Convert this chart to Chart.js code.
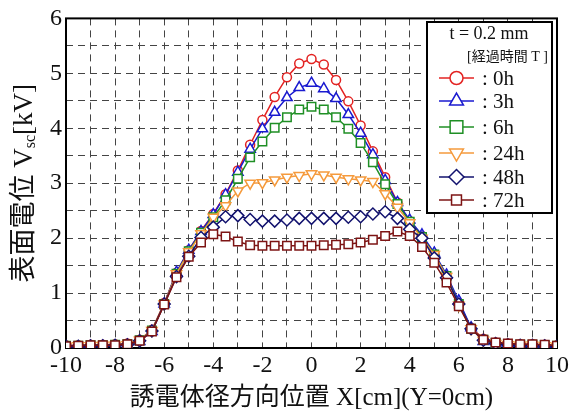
<!DOCTYPE html>
<html>
<head>
<meta charset="utf-8">
<script src="https://cdn.jsdelivr.net/npm/chart.js@4/dist/chart.umd.min.js"></script>
<style>
  html, body { margin: 0; padding: 0; background: #fff; }
  #wrap { width: 572px; height: 412px; }
</style>
</head>
<body>
<div id="wrap"><canvas id="c" width="572" height="412"></canvas></div>
<script>
// radial position X [cm], measured every 0.5 cm
const xPos = [-10, -9.5, -9, -8.5, -8, -7.5, -7, -6.5, -6, -5.5, -5, -4.5, -4, -3.5, -3, -2.5, -2, -1.5, -1, -0.5,
  0, 0.5, 1, 1.5, 2, 2.5, 3, 3.5, 4, 4.5, 5, 5.5, 6, 6.5, 7, 7.5, 8, 8.5, 9, 9.5, 10];

// surface potential Vsc [kV] for each elapsed time
const v0h  = [0.05, 0.05, 0.06, 0.06, 0.07, 0.08, 0.15, 0.33, 0.82, 1.37, 1.78, 2.13, 2.44, 2.80, 3.23, 3.70, 4.15, 4.57, 4.93, 5.18,
  5.26, 5.16, 4.88, 4.49, 4.05, 3.58, 3.11, 2.65, 2.31, 2.04, 1.71, 1.31, 0.82, 0.37, 0.17, 0.10, 0.08, 0.07, 0.07, 0.06, 0.05];
const v3h  = [0.02, 0.02, 0.02, 0.03, 0.03, 0.05, 0.12, 0.30, 0.80, 1.38, 1.78, 2.12, 2.43, 2.79, 3.20, 3.62, 3.99, 4.29, 4.56, 4.74,
  4.82, 4.72, 4.54, 4.25, 3.91, 3.52, 3.05, 2.65, 2.33, 2.06, 1.73, 1.33, 0.86, 0.37, 0.12, 0.04, 0.03, 0.03, 0.02, 0.02, 0.02];
const v6h  = [0.04, 0.04, 0.05, 0.05, 0.06, 0.07, 0.14, 0.32, 0.80, 1.35, 1.76, 2.10, 2.38, 2.69, 3.08, 3.47, 3.76, 4.01, 4.20, 4.34,
  4.39, 4.34, 4.20, 3.99, 3.73, 3.38, 2.98, 2.62, 2.30, 2.02, 1.70, 1.31, 0.80, 0.35, 0.15, 0.09, 0.07, 0.06, 0.06, 0.05, 0.04];
const v24h = [0.03, 0.04, 0.04, 0.05, 0.05, 0.06, 0.14, 0.32, 0.80, 1.35, 1.75, 2.08, 2.38, 2.59, 2.86, 3.00, 3.01, 3.06, 3.11, 3.14,
  3.17, 3.15, 3.11, 3.08, 3.06, 3.03, 2.81, 2.56, 2.28, 2.00, 1.70, 1.30, 0.78, 0.35, 0.14, 0.08, 0.06, 0.05, 0.05, 0.04, 0.03];
const v48h = [0.03, 0.03, 0.04, 0.04, 0.05, 0.06, 0.13, 0.31, 0.80, 1.30, 1.67, 2.01, 2.20, 2.39, 2.41, 2.34, 2.31, 2.31, 2.33, 2.36,
  2.36, 2.36, 2.36, 2.38, 2.39, 2.44, 2.48, 2.36, 2.16, 2.00, 1.64, 1.28, 0.80, 0.35, 0.14, 0.08, 0.06, 0.05, 0.05, 0.04, 0.03];
const v72h = [0.03, 0.04, 0.05, 0.05, 0.05, 0.07, 0.13, 0.30, 0.79, 1.29, 1.66, 1.92, 2.07, 2.03, 1.94, 1.87, 1.86, 1.86, 1.86, 1.86,
  1.86, 1.87, 1.88, 1.89, 1.92, 1.97, 2.04, 2.12, 2.04, 1.84, 1.55, 1.19, 0.76, 0.35, 0.15, 0.10, 0.08, 0.07, 0.07, 0.06, 0.04];

const seriesLabels = [": 0h", ": 3h", ": 6h", ": 24h", ": 48h", ": 72h"];
const seriesValues = [v0h, v3h, v6h, v24h, v48h, v72h];

// axis tick labels
const xTickLabels = [-10, -8, -6, -4, -2, 0, 2, 4, 6, 8, 10];
const yTickLabels = [0, 1, 2, 3, 4, 5, 6];

const colors = ["#e32322", "#1a1ad0", "#1f8f25", "#f59a3c", "#12126e", "#7d1414"];
const styles = [
  { pointStyle: "circle",   radius: 4.5, rotation: 0,   legendR: 6.5 },
  { pointStyle: "triangle", radius: 6,   rotation: 0,   legendR: 8 },
  { pointStyle: "rect",     radius: 6,   rotation: 0,   legendR: 9 },
  { pointStyle: "triangle", radius: 6,   rotation: 180, legendR: 8 },
  { pointStyle: "rectRot",  radius: 6,   rotation: 0,   legendR: 7.5 },
  { pointStyle: "rect",     radius: 6,   rotation: 0,   legendR: 7 }
];

const SERIF = "'Liberation Serif', 'Times New Roman', 'Noto Sans CJK JP', serif";

const datasets = seriesValues.map((vals, i) => ({
  label: seriesLabels[i],
  data: vals.map((v, k) => ({ x: xPos[k], y: v })),
  borderColor: colors[i],
  backgroundColor: "#fff",
  borderWidth: 1.5,
  pointStyle: styles[i].pointStyle,
  pointRotation: styles[i].rotation,
  pointRadius: styles[i].radius,
  pointBorderWidth: 1.5,
  pointBackgroundColor: "#fff",
  pointBorderColor: colors[i],
  tension: 0,
  order: seriesValues.length - i
}));

// solid frame round the plot (drawn under the marks)
const framePlugin = {
  id: "frame",
  beforeDatasetsDraw(chart) {
    const { ctx, chartArea: a } = chart;
    ctx.save();
    ctx.strokeStyle = "#000";
    ctx.lineWidth = 2;
    ctx.setLineDash([]);
    ctx.strokeRect(a.left, a.top, a.right - a.left, a.bottom - a.top);
    ctx.restore();
  }
};

// legend box, axis titles
const textPlugin = {
  id: "texts",
  afterDraw(chart) {
    const { ctx, chartArea: a } = chart;
    ctx.save();

    // legend box
    const bx = 427, by = 22, bw = 125, bh = 191;
    ctx.fillStyle = "#fff";
    ctx.fillRect(bx, by, bw, bh);
    ctx.strokeStyle = "#000";
    ctx.lineWidth = 2;
    ctx.strokeRect(bx, by, bw, bh);

    ctx.fillStyle = "#111";
    ctx.textBaseline = "middle";
    ctx.textAlign = "center";
    ctx.font = "18px " + SERIF;
    ctx.fillText("t = 0.2 mm", 489, 34);
    ctx.textAlign = "right";
    ctx.font = "14px " + SERIF;
    ctx.fillText("[経過時間 T ]", 548, 57);

    const rowY = [78, 101, 127, 153, 177, 200];
    chart.data.datasets.forEach((ds, i) => {
      const y = rowY[i];
      ctx.strokeStyle = colors[i];
      ctx.lineWidth = 1.5;
      ctx.beginPath();
      ctx.moveTo(439, y);
      ctx.lineTo(474, y);
      ctx.stroke();
      ctx.fillStyle = "#fff";
      Chart.helpers.drawPoint(ctx, {
        pointStyle: styles[i].pointStyle,
        rotation: styles[i].rotation,
        radius: styles[i].legendR,
        borderWidth: 1.5
      }, 456.5, y);
      ctx.fillStyle = "#111";
      ctx.textAlign = "left";
      ctx.font = "21px " + SERIF;
      ctx.fillText(ds.label, 482, y + 1);
    });

    // x title
    ctx.textAlign = "center";
    ctx.font = "25px " + SERIF;
    ctx.fillText("誘電体径方向位置 X[cm](Y=0cm)", (a.left + a.right) / 2, 398);

    // y title with subscript
    ctx.translate(25, (a.top + a.bottom) / 2);
    ctx.rotate(-Math.PI / 2);
    const big = "27px " + SERIF, small = "16px " + SERIF;
    const parts = [["表面電位 V", big, 0], ["sc", small, 6], ["[kV]", big, 0]];
    let total = 0;
    parts.forEach(p => { ctx.font = p[1]; total += ctx.measureText(p[0]).width; });
    let cx = -total / 2;
    ctx.textAlign = "left";
    parts.forEach(p => {
      ctx.font = p[1];
      ctx.fillText(p[0], cx, p[2]);
      cx += ctx.measureText(p[0]).width;
    });

    ctx.restore();
  }
};

new Chart(document.getElementById("c"), {
  type: "line",
  data: { datasets },
  options: {
    responsive: false,
    animation: false,
    devicePixelRatio: 1,
    layout: { padding: { left: 0, right: 15, top: 18, bottom: 0 } },
    plugins: { legend: { display: false }, tooltip: { enabled: false } },
    scales: {
      x: {
        type: "linear",
        min: -10, max: 10,
        afterFit: s => { s.height = 64; },
        ticks: {
          stepSize: 1,
          autoSkip: false,
          maxRotation: 0,
          padding: 3,
          color: "#111",
          font: { family: SERIF, size: 24 },
          callback: v => (xTickLabels.includes(v) ? String(v) : "")
        },
        grid: { color: "#444", lineWidth: 1, drawTicks: false },
        border: { display: false, dash: [7, 5] }
      },
      y: {
        min: 0, max: 6,
        afterFit: s => { s.width = 66; },
        ticks: {
          stepSize: 0.5,
          autoSkip: false,
          padding: 4,
          color: "#111",
          font: { family: SERIF, size: 24 },
          callback: v => (yTickLabels.includes(v) ? String(v) : "")
        },
        grid: { color: "#444", lineWidth: 1, drawTicks: false },
        border: { display: false, dash: [7, 5] }
      }
    }
  },
  plugins: [framePlugin, textPlugin]
});
</script>
</body>
</html>
